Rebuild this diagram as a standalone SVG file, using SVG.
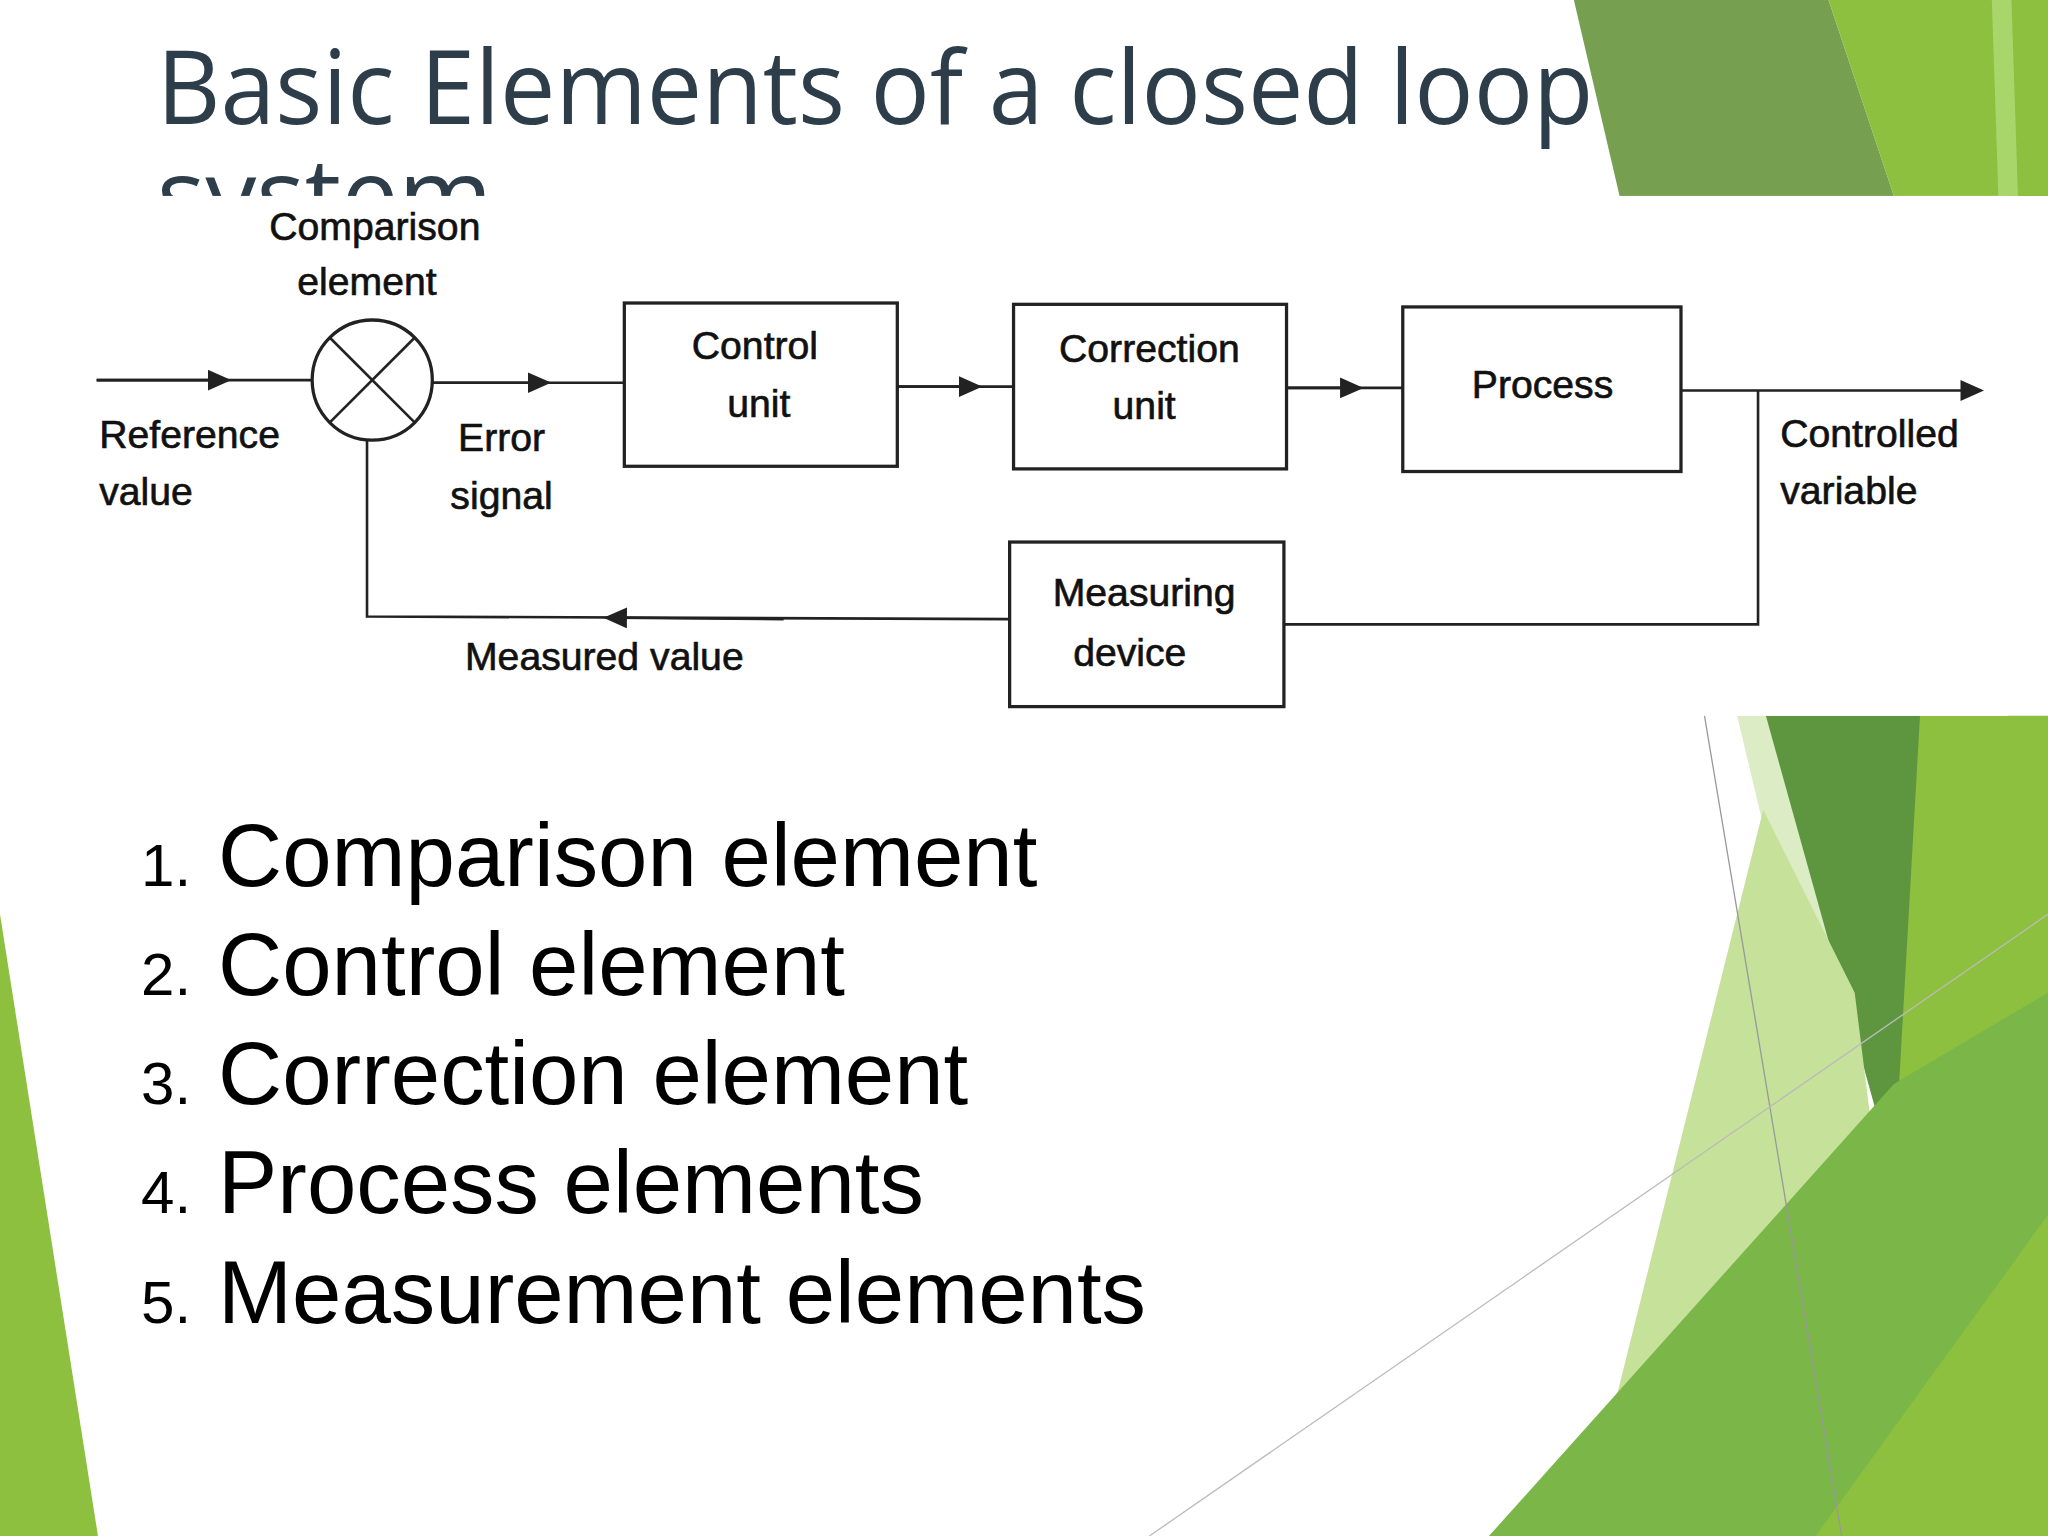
<svg xmlns="http://www.w3.org/2000/svg" width="2048" height="1536" viewBox="0 0 2048 1536">
<style>
.d{font-family:"Liberation Sans",Arial,sans-serif;font-size:30px;fill:#111;stroke:#111;stroke-width:0.5;}
.b{fill:none;stroke:#222;stroke-width:2.5;}
.l{fill:none;stroke:#222;stroke-width:2;}
.li{font-family:"Liberation Sans",Arial,sans-serif;font-size:68px;fill:#000;}
.n{font-family:"Liberation Sans",Arial,sans-serif;font-size:46px;fill:#000;}
</style>
<defs>
<marker id="a" markerWidth="18" markerHeight="18" refX="9" refY="8" orient="auto" markerUnits="userSpaceOnUse"><path d="M0,0 L18,8 L0,16 Z" fill="#222"/></marker>
<clipPath id="tc"><rect x="0" y="0" width="1600" height="150"/></clipPath>
</defs>
<rect width="2048" height="1536" fill="#fff"/>
<g transform="scale(1.30612)">
<g id="decor">
<polygon points="1205,0 1400,0 1450,150 1240,150" fill="#76a050"/>
<polygon points="1400,0 1568,0 1568,150 1450,150" fill="#8cc03e"/>
<polygon points="1525,0 1540,0 1545,150 1530,150" fill="#a8d66a"/>
<polygon points="1330,548 1352,548 1420,760 1390,800" fill="#dcecc4"/>
<polygon points="1352,548 1470,548 1470,700 1450,900" fill="#5e9640"/>
<polygon points="1470,548 1568,548 1568,1176 1380,1176 1450,900" fill="#8cc03e"/>
<polygon points="1350,620 1420,760 1450,1000 1200,1176 1230,1100" fill="#c5e19a"/>
<polygon points="1140,1176 1450,830 1568,760 1568,1176" fill="#7ab648"/>
<polygon points="1390,1176 1568,930 1568,1176" fill="#8cc03e"/>
<polygon points="0,700 0,1176 75,1176" fill="#8cc03e"/>
<line x1="1305" y1="548" x2="1410" y2="1176" stroke="#999" stroke-width="1"/>
<line x1="880" y1="1176" x2="1568" y2="700" stroke="#bbb" stroke-width="1"/>
</g>
<g id="title" font-family="Open Sans,'DejaVu Sans',sans-serif" font-size="78" fill="#2d3e4a">
<text x="120" y="95" textLength="1100" lengthAdjust="spacingAndGlyphs">Basic Elements of a closed loop</text>
<text x="120" y="178" clip-path="url(#tc)">system</text>
</g>
<rect x="0" y="150" width="1537" height="398" fill="#fff"/>
<g id="connectors">
<line class="l" x1="74" y1="291" x2="239" y2="291"/>
<line class="l" x1="74" y1="291" x2="168" y2="291" marker-end="url(#a)"/>
<line class="l" x1="331" y1="293" x2="478" y2="293"/>
<line class="l" x1="331" y1="293" x2="413" y2="293" marker-end="url(#a)"/>
<line class="l" x1="687" y1="296" x2="776" y2="296"/>
<line class="l" x1="687" y1="296" x2="743" y2="296" marker-end="url(#a)"/>
<line class="l" x1="985" y1="297" x2="1074" y2="297"/>
<line class="l" x1="985" y1="297" x2="1035" y2="297" marker-end="url(#a)"/>
<line class="l" x1="1287" y1="299" x2="1510" y2="299" marker-end="url(#a)"/>
<polyline class="l" points="1346,299 1346,478 983,478"/>
<polyline class="l" points="773,474 281,472 281,337"/>
<line class="l" x1="600" y1="474" x2="471" y2="473" marker-end="url(#a)"/>
</g>
<g id="comparison"><circle class="b" cx="285" cy="291" r="46"/><line class="l" x1="252" y1="258" x2="318" y2="324"/><line class="l" x1="318" y1="258" x2="252" y2="324"/>
<text class="d" x="287" y="184" text-anchor="middle">Comparison</text><text class="d" x="281" y="226" text-anchor="middle">element</text></g>
<g id="control"><rect class="b" x="478" y="232" width="209" height="125"/><text class="d" x="578" y="275" text-anchor="middle">Control</text><text class="d" x="581" y="319" text-anchor="middle">unit</text></g>
<g id="correction"><rect class="b" x="776" y="233" width="209" height="126"/><text class="d" x="880" y="277" text-anchor="middle">Correction</text><text class="d" x="876" y="321" text-anchor="middle">unit</text></g>
<g id="process"><rect class="b" x="1074" y="235" width="213" height="126"/><text class="d" x="1181" y="305" text-anchor="middle">Process</text></g>
<g id="measuring"><rect class="b" x="773" y="415" width="210" height="126"/><text class="d" x="876" y="464" text-anchor="middle">Measuring</text><text class="d" x="865" y="510" text-anchor="middle">device</text></g>
<g id="labels">
<text class="d" x="76" y="343">Reference</text><text class="d" x="76" y="387">value</text>
<text class="d" x="384" y="345" text-anchor="middle">Error</text><text class="d" x="384" y="390" text-anchor="middle">signal</text>
<text class="d" x="1363" y="342">Controlled</text><text class="d" x="1363" y="386">variable</text>
<text class="d" x="356" y="513">Measured value</text>
</g>
<g id="list">
<text class="n" x="108" y="678">1.</text><text class="li" x="167" y="678">Comparison element</text>
<text class="n" x="108" y="762">2.</text><text class="li" x="167" y="762">Control element</text>
<text class="n" x="108" y="845">3.</text><text class="li" x="167" y="845">Correction element</text>
<text class="n" x="108" y="929">4.</text><text class="li" x="167" y="929">Process elements</text>
<text class="n" x="108" y="1013">5.</text><text class="li" x="167" y="1013">Measurement elements</text>
</g>
</g>
</svg>
